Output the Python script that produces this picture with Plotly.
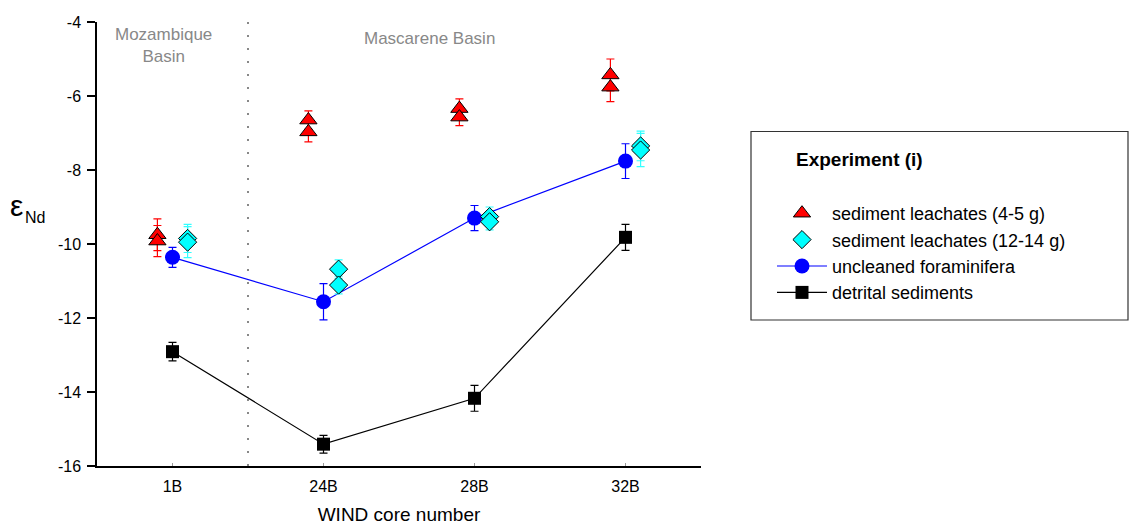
import plotly.graph_objects as go

# ---- data ----
cores = ["1B", "24B", "28B", "32B"]
core_pos = [1, 2, 3, 4]
y_tickvals = [-16, -14, -12, -10, -8, -6, -4]
y_ticktext = ["-16", "-14", "-12", "-10", "-8", "-6", "-4"]

# sediment leachates (4-5 g): two replicates per core
leach45_a = [-9.75, -6.65, -6.34, -5.43]
leach45_a_err = [0.43, 0.25, 0.26, 0.43]
leach45_b = [-9.92, -6.97, -6.57, -5.76]
leach45_b_err = [0.42, 0.27, 0.23, 0.39]

# sediment leachates (12-14 g): two replicates per core
leach1214_a = [-9.85, -10.68, -9.26, -7.35]
leach1214_a_err = [0.38, 0.25, 0.26, 0.40]
leach1214_b = [-9.95, -11.11, -9.40, -7.46]
leach1214_b_err = [0.42, 0.24, 0.22, 0.45]

# uncleaned foraminifera
foram = [-10.36, -11.56, -9.30, -7.76]
foram_err = [0.27, 0.49, 0.34, 0.47]

# detrital sediments
detrital = [-12.91, -15.41, -14.17, -9.82]
detrital_err = [0.25, 0.24, 0.35, 0.35]

FONT = "Liberation Sans, Arial, sans-serif"
L, R, T, B = 97, 431, 22, 62
W, H = 1132, 528
PW, PH = W - L - R, H - T - B


def px_x(px):
    return (px - L) / PW


def px_y(py):
    return 1 - (py - T) / PH


off = 0.1
fig = go.Figure()

# detrital sediments
fig.add_trace(go.Scatter(
    x=core_pos, y=detrital, mode="lines+markers", name="detrital sediments",
    line=dict(color="black", width=1.2),
    marker=dict(symbol="square", size=13, color="black"),
    error_y=dict(type="data", array=detrital_err, color="black", thickness=1.2, width=4),
    legendrank=4,
))

# uncleaned foraminifera
fig.add_trace(go.Scatter(
    x=core_pos, y=foram, mode="lines+markers", name="uncleaned foraminifera",
    line=dict(color="#0000FF", width=1.2),
    marker=dict(symbol="circle", size=15, color="#0000FF"),
    error_y=dict(type="data", array=foram_err, color="#0000FF", thickness=1.2, width=4),
    legendrank=3,
))

# sediment leachates (4-5 g)
tri_x = [p - off for p in core_pos] * 2
tri_y = leach45_a + leach45_b
tri_e = leach45_a_err + leach45_b_err
fig.add_trace(go.Scatter(
    x=tri_x, y=tri_y, mode="markers", name="sediment leachates (4-5 g)",
    marker=dict(symbol="triangle-up", size=15, color="#FF0000",
                line=dict(color="black", width=1)),
    error_y=dict(type="data", array=tri_e, color="#FF0000", thickness=1.2, width=4),
    legendrank=1,
))

# sediment leachates (12-14 g)
dia_x = [p + off for p in core_pos] * 2
dia_y = leach1214_a + leach1214_b
dia_e = leach1214_a_err + leach1214_b_err
fig.add_trace(go.Scatter(
    x=dia_x, y=dia_y, mode="markers", name="sediment leachates (12-14 g)",
    marker=dict(symbol="diamond", size=14, color="#00FFFF",
                line=dict(color="black", width=1)),
    error_y=dict(type="data", array=dia_e, color="#33FFFF", thickness=1.2, width=4),
    legendrank=2,
))

fig.update_layout(
    width=W, height=H,
    margin=dict(l=L, r=R, t=T, b=B, pad=0, autoexpand=False),
    paper_bgcolor="white", plot_bgcolor="white",
    font=dict(family=FONT, color="black", size=16),
    showlegend=True,
    legend=dict(
        x=px_x(772), y=px_y(195), xanchor="left", yanchor="top",
        font=dict(family=FONT, size=18, color="black"),
        bgcolor="rgba(0,0,0,0)", borderwidth=0,
        traceorder="normal", itemwidth=50,
    ),
    xaxis=dict(
        range=[0.5, 4.5], tickvals=core_pos, ticktext=cores,
        showline=True, linecolor="black", linewidth=1.5,
        ticks="inside", ticklen=3, tickcolor="#999999", tickwidth=1,
        showgrid=False, zeroline=False, automargin=False,
        tickfont=dict(size=16), ticklabelstandoff=5,
        title=dict(text="WIND core number", font=dict(size=19), standoff=14),
    ),
    yaxis=dict(
        range=[-16, -4], tickvals=y_tickvals, ticktext=y_ticktext,
        showline=True, linecolor="black", linewidth=1.5,
        ticks="outside", ticklen=8, tickcolor="black", tickwidth=1.5,
        showgrid=False, zeroline=False, automargin=False,
        tickfont=dict(size=16), ticklabelstandoff=3,
    ),
    shapes=[
        dict(type="line", xref="x", yref="y", x0=1.5, x1=1.5, y0=-16, y1=-4,
             line=dict(color="#888888", width=2, dash="2px,11px")),
        dict(type="rect", xref="paper", yref="paper",
             x0=px_x(751), x1=px_x(1128), y0=px_y(320), y1=px_y(131.5),
             line=dict(color="#333333", width=1.2)),
    ],
    annotations=[
        dict(text="Mozambique<br>Basin", xref="x", yref="paper", x=0.94, y=px_y(45),
             showarrow=False, font=dict(size=17, color="#888888"), xanchor="center", yanchor="middle"),
        dict(text="Mascarene Basin", xref="x", yref="paper", x=2.70, y=px_y(39),
             showarrow=False, font=dict(size=17, color="#888888"), xanchor="center", yanchor="middle"),
        dict(text="<b>Experiment (i)</b>", xref="paper", yref="paper", x=px_x(794), y=px_y(160),
             showarrow=False, font=dict(size=19, color="black"), xanchor="left", yanchor="middle"),
        dict(text="ε", xref="paper", yref="paper", x=px_x(16.5), y=px_y(205),
             showarrow=False, font=dict(size=30, color="black"), xanchor="center", yanchor="middle"),
        dict(text="Nd", xref="paper", yref="paper", x=px_x(34.5), y=px_y(218),
             showarrow=False, font=dict(size=16, color="black"), xanchor="center", yanchor="middle"),
    ],
)

fig.write_html("out.html")
